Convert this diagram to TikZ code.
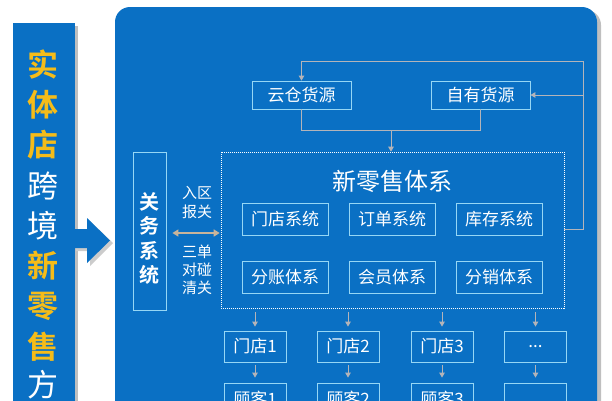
\documentclass[tikz,border=0pt]{standalone}
\usepackage{fontspec}
\setmainfont{Noto Sans CJK SC}
\newfontfamily\cjkb{Noto Sans CJK SC}[BoldFont={* Bold}]
\usetikzlibrary{arrows.meta,shadows}
\definecolor{panelblue}{RGB}{10,112,196}
\definecolor{boxc}{RGB}{150,215,245}
\definecolor{linec}{RGB}{180,180,185}
\definecolor{tanc}{RGB}{200,180,155}
\definecolor{yel}{RGB}{245,188,25}
\newcommand\mydots{...}
\tikzset{
  sysbox/.style={draw=boxc,line width=0.8pt,text=white,inner sep=0pt,font=\fontsize{17}{17}\selectfont},
  conn/.style={draw=linec,line width=1pt},
  tip/.style={-{Triangle[width=5.5pt,length=5pt]}},
  lbl/.style={text=white,font=\fontsize{15}{15}\selectfont,inner sep=0pt},
  barch/.style={font=\fontsize{31}{31}\selectfont\bfseries,text=yel,inner sep=0pt},
  barw/.style={font=\fontsize{31}{31}\selectfont,text=white,inner sep=0pt},
}
\begin{document}
\begin{tikzpicture}[x=1pt,y=-1pt]
\useasboundingbox (0,0) rectangle (612,400);
\begin{scope}
\clip (0,0) rectangle (612,400);
% shadows
\fill[black!25] (17,26) rectangle (78,420);
\fill[black!25,rounded corners=15pt] (119,10) rectangle (601,430);
% left bar
\fill[panelblue] (13,23) rectangle (75,420);
% arrow
\fill[black!20] (76,232) -- (90,232) -- (90,221) -- (113,243) -- (90,266) -- (90,251) -- (76,251) -- cycle;
\fill[panelblue] (73,229) -- (87,229) -- (87,218) -- (110,240.5) -- (87,263) -- (87,248) -- (73,248) -- cycle;
% main panel
\fill[panelblue,rounded corners=15pt] (115,7) rectangle (597,430);
% left bar text
\node[barch] (c1) at (43,64) {\cjkb 实};
\node[barch] (c2) at (43,104.5) {\cjkb 体};
\node[barch] (c3) at (43,145) {\cjkb 店};
\node[barw] (c4) at (43,186) {跨};
\node[barw] (c5) at (43,226) {境};
\node[barch] (c6) at (43,266) {\cjkb 新};
\node[barch] (c7) at (43,306) {\cjkb 零};
\node[barch] (c8) at (43,346.5) {\cjkb 售};
\node[barw] (c9) at (43,385) {方};
% sources
\node[sysbox,minimum width=99pt,minimum height=28pt] (yc) at (301.5,95) {云仓货源};
\node[sysbox,minimum width=99pt,minimum height=28pt] (zy) at (480.5,95) {自有货源};
% dashed system box
\node[draw=white,line width=0.6pt,dash pattern=on 1pt off 1pt,minimum width=343pt,minimum height=156pt,inner sep=0pt] (nr) at (392.5,230) {};
\node[text=white,font=\fontsize{24}{24}\selectfont,inner sep=0pt] (title) at (392,181) {新零售体系};
\node[sysbox,minimum width=86pt,minimum height=32pt] (s1) at (285,219) {门店系统};
\node[sysbox,minimum width=86pt,minimum height=32pt] (s2) at (392,219) {订单系统};
\node[sysbox,minimum width=86pt,minimum height=32pt] (s3) at (499,219) {库存系统};
\node[sysbox,minimum width=86pt,minimum height=32pt] (s4) at (285,277) {分账体系};
\node[sysbox,minimum width=86pt,minimum height=32pt] (s5) at (392,277) {会员体系};
\node[sysbox,minimum width=86pt,minimum height=32pt] (s6) at (499,277) {分销体系};
% customs
\node[draw=boxc,line width=0.8pt,minimum width=33pt,minimum height=158pt,inner sep=0pt] (gw) at (149.5,231) {};
\node[text=white,font=\fontsize{20}{24.5}\selectfont\bfseries,align=center,inner sep=0pt] (gwt) at (149.5,238.5) {\cjkb 关\\\cjkb 务\\\cjkb 系\\\cjkb 统};
\node[lbl] (l1) at (197,193) {入区};
\node[lbl] (l2) at (197,212) {报关};
\node[lbl] (l3) at (197,252) {三单};
\node[lbl] (l4) at (197,270) {对碰};
\node[lbl] (l5) at (197,288) {清关};
\draw[draw=tanc,line width=2.2pt,{Triangle[width=7pt,length=6pt]}-{Triangle[width=7pt,length=6pt]},shorten <=6pt,shorten >=1pt] (gw.east |- 0,233) -- (nr.west |- 0,233);
% stores
\foreach \i/\x/\t in {1/255/门店1,2/348/门店2,3/442/门店3,4/535.5/\mydots}{
  \node[sysbox,minimum width=62pt,minimum height=31pt] (m\i) at (\x,346.5) {\t};
}
\foreach \i/\x/\t in {1/255/顾客1,2/348/顾客2,3/442/顾客3,4/535.5/{}}{
  \node[sysbox,minimum width=62pt,minimum height=31pt] (k\i) at (\x,398.5) {\t};
}
\foreach \i in {1,2,3,4}{
  \draw[conn,tip,shorten <=4pt,shorten >=4pt] (nr.south -| m\i.north) -- (m\i.north);
  \draw[conn,tip,shorten <=3pt,shorten >=5pt] (m\i.south) -- (k\i.north);
}
% feedback lines
\coordinate (tr) at (583,61);
\coordinate (br) at (583,229);
\coordinate (jl) at (301.5,130);
\coordinate (jr) at (480.5,130);
\coordinate (jm) at (391,130);
\draw[conn,tip] (nr.east |- br) -- (br) -- (tr) -- (yc.north |- tr) -- (yc.north);
\draw[conn,tip] (tr |- zy.east) -- (zy.east);
\draw[conn] (yc.south) -- (jl) -- (jr) -- (zy.south);
\draw[conn,tip] (jm) -- (jm |- nr.north);
\end{scope}
\end{tikzpicture}
\end{document}
